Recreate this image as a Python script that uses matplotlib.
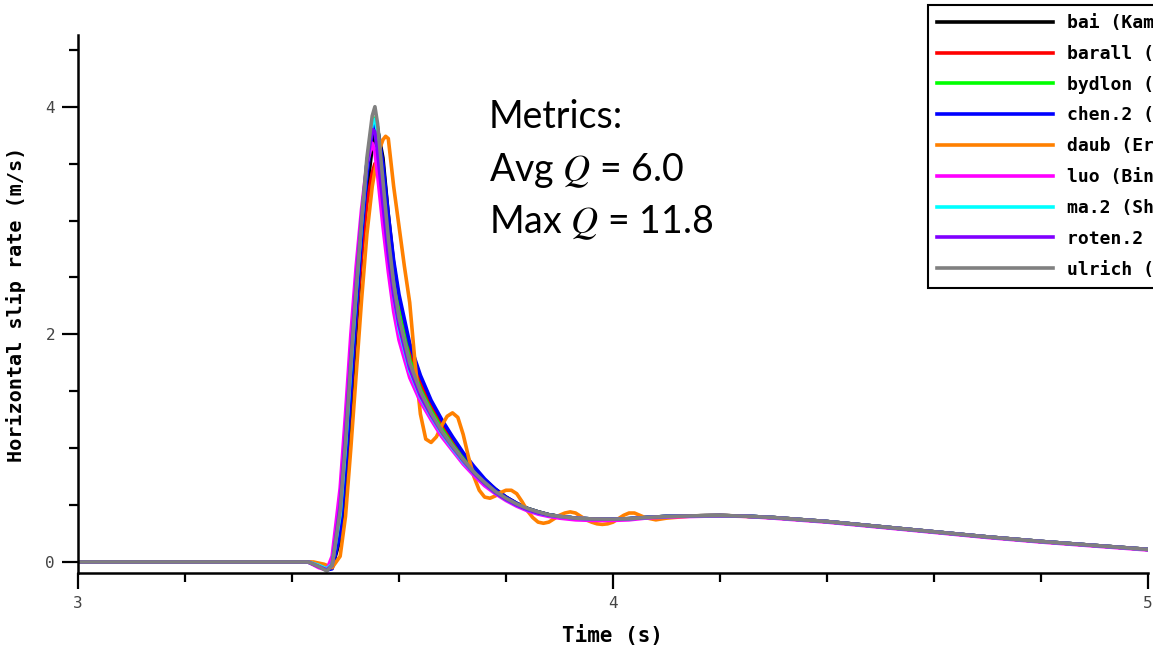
import matplotlib.pyplot as plt
from matplotlib.ticker import MultipleLocator

plt.rcParams['mathtext.fontset'] = 'stix'

# time grid shared by most codes
t = [3.00, 3.40, 3.43, 3.45, 3.465, 3.475, 3.49, 3.50, 3.51, 3.52, 3.53, 3.54,
     3.55, 3.555, 3.56, 3.57, 3.58, 3.59, 3.60, 3.62, 3.64, 3.66, 3.68, 3.70,
     3.72, 3.74, 3.76, 3.78, 3.80, 3.82, 3.84, 3.86, 3.88, 3.90, 3.93, 3.96,
     4.00, 4.03, 4.06, 4.10, 4.15, 4.20, 4.25, 4.30, 4.40, 4.50, 4.60, 4.70,
     4.80, 4.90, 5.00]

tail = [0.40, 0.385, 0.378, 0.376, 0.38, 0.39, 0.40, 0.405, 0.408, 0.402,
        0.39, 0.355, 0.31, 0.265, 0.22, 0.18, 0.145, 0.11]

bai = [0, 0, 0, -0.02, -0.05, -0.05, 0.2, 0.7, 1.35, 2.05, 2.7, 3.25,
       3.65, 3.78, 3.8, 3.55, 3.05, 2.62, 2.3, 1.88, 1.6, 1.39, 1.22, 1.07,
       0.94, 0.82, 0.72, 0.64, 0.57, 0.515, 0.47, 0.44, 0.415] + tail
barall = [0, 0, 0, -0.02, -0.05, -0.04, 0.3, 0.85, 1.5, 2.15, 2.7, 3.15,
          3.42, 3.5, 3.48, 3.3, 2.95, 2.58, 2.28, 1.85, 1.57, 1.37, 1.2, 1.05,
          0.92, 0.81, 0.71, 0.63, 0.565, 0.51, 0.47, 0.44, 0.415] + tail
bydlon = [0, 0, 0, -0.03, -0.07, -0.04, 0.38, 0.98, 1.68, 2.35, 2.95, 3.5,
          3.85, 3.9, 3.82, 3.38, 2.9, 2.5, 2.2, 1.78, 1.52, 1.33, 1.17, 1.03,
          0.91, 0.8, 0.7, 0.62, 0.56, 0.51, 0.47, 0.44, 0.415] + tail
chen2 = [0, 0, 0, -0.04, -0.07, -0.06, 0.25, 0.8, 1.5, 2.2, 2.85, 3.4,
         3.78, 3.85, 3.8, 3.5, 3.05, 2.65, 2.35, 1.92, 1.64, 1.42, 1.25, 1.1,
         0.96, 0.84, 0.73, 0.64, 0.57, 0.515, 0.47, 0.44, 0.415] + tail
luo = [0, 0, 0, -0.05, -0.07, 0.05, 0.65, 1.3, 2.0, 2.6, 3.1, 3.5,
       3.68, 3.6, 3.4, 2.95, 2.55, 2.2, 1.95, 1.62, 1.41, 1.25, 1.1, 0.98,
       0.86, 0.76, 0.67, 0.6, 0.54, 0.49, 0.45, 0.42, 0.4,
       0.385, 0.37, 0.365, 0.365, 0.37, 0.385, 0.395, 0.4, 0.405, 0.4,
       0.385, 0.35, 0.305, 0.26, 0.215, 0.175, 0.14, 0.105]
ma2 = [0, 0, 0, -0.03, -0.06, -0.02, 0.42, 1.02, 1.72, 2.38, 2.98, 3.5,
       3.85, 3.89, 3.78, 3.25, 2.75, 2.35, 2.05, 1.68, 1.45, 1.28, 1.13, 1.0,
       0.88, 0.78, 0.69, 0.61, 0.55, 0.5, 0.46, 0.43, 0.41] + tail
roten2 = [0, 0, 0, -0.04, -0.07, -0.03, 0.5, 1.12, 1.8, 2.45, 3.02, 3.5,
          3.8, 3.78, 3.6, 3.15, 2.7, 2.35, 2.08, 1.7, 1.46, 1.29, 1.14, 1.01,
          0.89, 0.78, 0.69, 0.61, 0.55, 0.5, 0.46, 0.43, 0.41] + tail
ulrich = [0, 0, 0, -0.04, -0.08, -0.03, 0.45, 1.05, 1.75, 2.4, 3.0, 3.55,
          3.92, 4.0, 3.85, 3.35, 2.85, 2.45, 2.15, 1.75, 1.50, 1.31, 1.15, 1.02,
          0.90, 0.79, 0.70, 0.62, 0.56, 0.51, 0.47, 0.44, 0.415] + tail

# daub oscillates, so it gets a finer grid
t_daub = [3.00, 3.40, 3.44, 3.46, 3.475, 3.49, 3.50, 3.51, 3.52, 3.53, 3.54,
          3.55, 3.56, 3.57, 3.575, 3.58, 3.59, 3.60, 3.61, 3.62, 3.63, 3.64,
          3.65, 3.66, 3.67, 3.68, 3.69, 3.70, 3.71, 3.72, 3.73, 3.74, 3.75,
          3.76, 3.77, 3.78, 3.79, 3.80, 3.81, 3.82, 3.83, 3.84, 3.85, 3.86,
          3.87, 3.88, 3.89, 3.90, 3.91, 3.92, 3.93, 3.94, 3.95, 3.96, 3.97,
          3.98, 3.99, 4.00, 4.01, 4.02, 4.03, 4.04, 4.05, 4.06, 4.08, 4.10,
          4.15, 4.20, 4.25, 4.30, 4.40, 4.50, 4.60, 4.70, 4.80, 4.90, 5.00]
daub = [0, 0, 0, -0.02, -0.05, 0.05, 0.4, 1.0, 1.65, 2.3, 2.88,
        3.3, 3.58, 3.71, 3.74, 3.72, 3.3, 2.95, 2.6, 2.28, 1.75, 1.3,
        1.08, 1.05, 1.1, 1.2, 1.28, 1.31, 1.27, 1.12, 0.92, 0.75, 0.63,
        0.57, 0.56, 0.58, 0.61, 0.63, 0.63, 0.6, 0.53, 0.45, 0.39, 0.35,
        0.34, 0.35, 0.38, 0.41, 0.43, 0.44, 0.43, 0.40, 0.37, 0.35, 0.335,
        0.33, 0.335, 0.35, 0.38, 0.41, 0.43, 0.43, 0.41, 0.39, 0.37, 0.385,
        0.405, 0.41, 0.40, 0.39, 0.355, 0.31, 0.265, 0.22, 0.18, 0.145, 0.11]

labels = ['bai (Kamchen)', 'barall (FaultMod)', 'bydlon (FDMAP)',
          'chen.2 (CG-FDM)', 'daub (EricDaub)', 'luo (BinLuo)',
          'ma.2 (ShuoMa)', 'roten.2 (AWP)', 'ulrich (SeisSol)']
series = [(t, bai), (t, barall), (t, bydlon), (t, chen2), (t_daub, daub),
          (t, luo), (t, ma2), (t, roten2), (t, ulrich)]
colors = ['#000000', '#ff0000', '#00ff00', '#0000ff', '#ff8000',
          '#ff00ff', '#00ffff', '#8000ff', '#808080']

fig = plt.figure(figsize=(11.53, 6.5), dpi=100)
ax = fig.add_axes([78 / 1153, 1 - 573 / 650, 1070 / 1153, 538 / 650])

lines = []
for (x, y), c, lab in zip(series, colors, labels):
    ln, = ax.plot(x, y, color=c, lw=2.6, label=lab)
    lines.append(ln)

ax.set_xlim(3, 5)
ax.set_ylim(-0.097, 4.63)
ax.xaxis.set_major_locator(MultipleLocator(1))
ax.xaxis.set_minor_locator(MultipleLocator(0.2))
ax.yaxis.set_major_locator(MultipleLocator(2))
ax.yaxis.set_minor_locator(MultipleLocator(0.5))

for s in ['top', 'right']:
    ax.spines[s].set_visible(False)
for s in ['left', 'bottom']:
    ax.spines[s].set_linewidth(1.8)

ax.tick_params(which='major', length=11.5, width=1.6, direction='out',
               labelsize=11.5, labelcolor='#444444', pad=5)
ax.tick_params(which='minor', length=6.5, width=1.6, direction='out')
for lab in ax.get_xticklabels() + ax.get_yticklabels():
    lab.set_family('DejaVu Sans Mono')

ax.set_xlabel('Time (s)', family='DejaVu Sans Mono', fontsize=15,
              weight='bold', labelpad=10)
ax.set_ylabel('Horizontal slip rate (m/s)', family='DejaVu Sans Mono',
              fontsize=14.5, weight='bold', labelpad=14)

leg = fig.legend(handles=lines, loc='upper left',
                 bbox_to_anchor=(928 / 1153, 1 - 5 / 650), borderaxespad=0,
                 prop={'family': 'DejaVu Sans Mono', 'size': 13,
                       'weight': 'bold'},
                 handlelength=6.4, handletextpad=0.8, labelspacing=0.71,
                 fancybox=False, framealpha=1, edgecolor='black',
                 borderpad=0.5)
leg.get_frame().set_linewidth(1.5)
for ln in leg.get_lines():
    ln.set_linewidth(2.6)

fig.text(489 / 1153, 1 - 128 / 650, 'Metrics:', family='Lato', fontsize=27,
         va='baseline')
fig.text(489 / 1153, 1 - 181 / 650, 'Avg $Q$ = 6.0', family='Lato',
         fontsize=27, va='baseline')
fig.text(489 / 1153, 1 - 233 / 650, 'Max $Q$ = 11.8', family='Lato',
         fontsize=27, va='baseline')

fig.savefig('out.png', dpi=100)
